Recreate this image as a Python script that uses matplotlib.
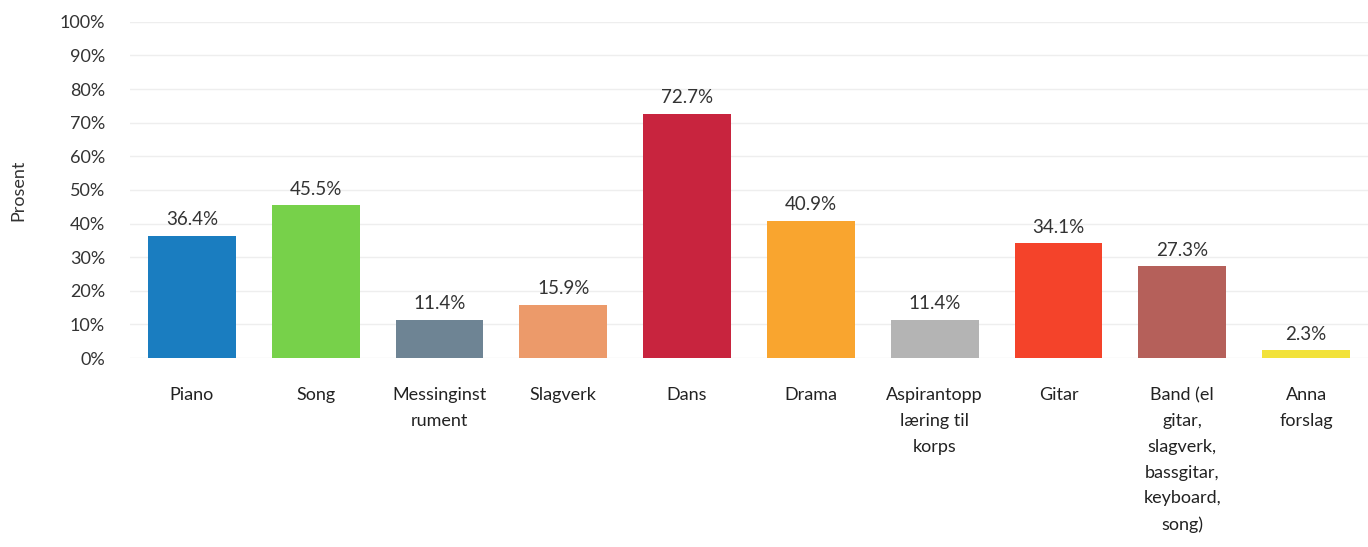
import matplotlib.pyplot as plt
import numpy as np

categories = ['Piano', 'Song', 'Messinginst\nrument', 'Slagverk', 'Dans', 'Drama',
              'Aspirantopp\nlæring til\nkorps', 'Gitar',
              'Band (el\ngitar,\nslagverk,\nbassgitar,\nkeyboard,\nsong)', 'Anna\nforslag']
values = [36.4, 45.5, 11.4, 15.9, 72.7, 40.9, 11.4, 34.1, 27.3, 2.3]
colors = ['#1a7dc0', '#77d14a', '#6e8494', '#ec9a6a', '#c8243e',
          '#f9a52f', '#b4b4b4', '#f4432a', '#b5605a', '#f2e23a']

plt.rcParams['font.family'] = ['Lato', 'DejaVu Sans']

fig = plt.figure(figsize=(13.68, 5.47), dpi=100)
ax = fig.add_axes([0.095, 0.3455, 0.905, 0.6145])

x = np.arange(len(categories))
bars = ax.bar(x, values, width=0.71, color=colors, zorder=2)
for xi, v in zip(x, values):
    ax.text(xi, v + 2.2, f'{v:.1f}%', ha='center', va='bottom', fontsize=13.5, color='#333333')

ax.set_xlim(-0.5, len(categories) - 0.5)
ax.set_ylim(0, 100)
ax.set_yticks(range(0, 101, 10))
ax.set_yticklabels([f'{t}%' for t in range(0, 101, 10)], fontsize=13, color='#333333')
ax.set_xticks(x)
ax.set_xticklabels(categories, fontsize=13, color='#222222', linespacing=1.75, va='top')
ax.tick_params(axis='both', length=0)
ax.tick_params(axis='x', pad=21)
ax.tick_params(axis='y', pad=18)
ax.grid(axis='y', color='#eeeeee', linewidth=1, zorder=0)
for s in ax.spines.values():
    s.set_visible(False)
ax.set_ylabel('Prosent', fontsize=13, color='#333333', labelpad=24)

fig.savefig('out.png', dpi=100)
